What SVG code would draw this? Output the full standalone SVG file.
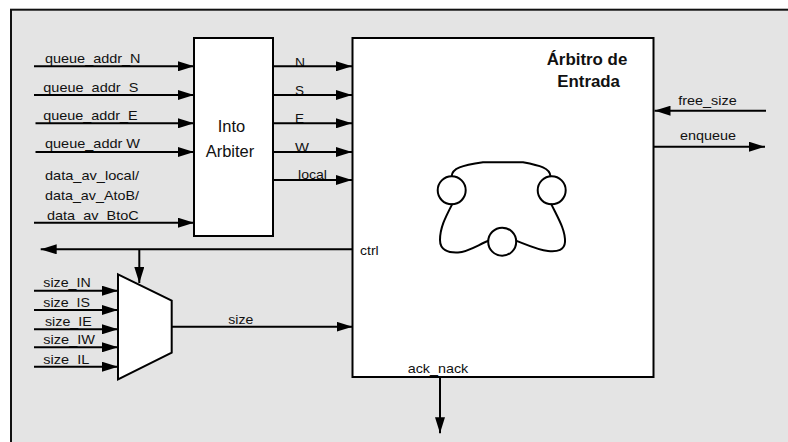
<svg xmlns="http://www.w3.org/2000/svg" width="788" height="442" viewBox="0 0 788 442">
<style>
.box{fill:#fff;stroke:#000;stroke-width:2}
.w{fill:none;stroke:#000;stroke-width:2}
.lbl{font-family:"Liberation Sans",Arial,sans-serif;font-size:13px;fill:#111}
.big{font-family:"Liberation Sans",Arial,sans-serif;font-size:16.5px;fill:#111}
.bold{font-family:"Liberation Sans",Arial,sans-serif;font-size:16px;font-weight:bold;fill:#111}
.arr{marker-end:url(#ah)}
</style>
<defs>
<marker id="ah" viewBox="0 0 16 10" refX="16" refY="5" markerWidth="16" markerHeight="10" markerUnits="userSpaceOnUse" orient="auto">
<path d="M0,0 L16,5 L0,10 z" fill="#000"/>
</marker>
</defs>
<rect width="788" height="442" fill="#fff"/>
<g id="frame">
<rect x="11" y="9.7" width="800" height="460" fill="#e4e4e4" stroke="#111" stroke-width="2"/>
</g>
<g id="into-arbiter">
<rect class="box" x="194" y="38" width="79" height="198"/>
<text class="big" x="231.5" y="131.7" text-anchor="middle">Into</text>
<text class="big" x="230" y="156.7" text-anchor="middle">Arbiter</text>
</g>
<g id="arbitro-entrada">
<rect class="box" x="352.5" y="38" width="301" height="339"/>
<text class="bold" x="546.7" y="65" textLength="80.6" lengthAdjust="spacingAndGlyphs">Árbitro de</text>
<text class="bold" x="557.3" y="86.7" textLength="62.7" lengthAdjust="spacingAndGlyphs">Entrada</text>
<g id="fsm" class="w">
<circle cx="451.7" cy="190.3" r="14"/>
<circle cx="551.7" cy="190.3" r="14"/>
<circle cx="502.2" cy="241.7" r="14"/>
<path d="M451.7,176.3 C452,168 462,165.5 483,162.3 L523,162.3 C540,165.5 550,168 550.5,176.4"/>
<path d="M452.5,203.6 C445,218 440,228 440,240 C440,250 448,253 458,252.5 C468,252 478,245 488.4,240.8"/>
<path d="M551,203.6 C558,218 565.5,230 565,242 C564.5,250 558,252 548,251 C538,250 525,244 515.9,240.6"/>
</g>
</g>
<g id="mux">
<polygon class="box" points="118,274.3 171.7,300.7 171.7,352.7 118,379.3"/>
</g>
<g id="labels" class="lbl">
<text x="45" y="63.3" textLength="95.5" lengthAdjust="spacingAndGlyphs">queue_addr_N</text>
<text x="43.3" y="91.7" textLength="95" lengthAdjust="spacingAndGlyphs">queue_addr_S</text>
<text x="43.3" y="120" textLength="94.4" lengthAdjust="spacingAndGlyphs">queue_addr_E</text>
<text x="45" y="148.3" textLength="95" lengthAdjust="spacingAndGlyphs">queue_addr W</text>
<text x="45" y="180" textLength="94" lengthAdjust="spacingAndGlyphs">data_av_local/</text>
<text x="45" y="200" textLength="94" lengthAdjust="spacingAndGlyphs">data_av_AtoB/</text>
<text x="47" y="220" textLength="91.7" lengthAdjust="spacingAndGlyphs">data_av_BtoC</text>
<text x="295" y="66.5" textLength="10" lengthAdjust="spacingAndGlyphs">N</text>
<text x="295" y="94.5" textLength="9" lengthAdjust="spacingAndGlyphs">S</text>
<text x="295" y="123.3" textLength="9" lengthAdjust="spacingAndGlyphs">E</text>
<text x="295" y="151.8" textLength="14" lengthAdjust="spacingAndGlyphs">W</text>
<text x="298" y="179.3" textLength="29" lengthAdjust="spacingAndGlyphs">local</text>
<text x="360" y="255" textLength="18.7" lengthAdjust="spacingAndGlyphs">ctrl</text>
<text x="43.3" y="287" textLength="47.4" lengthAdjust="spacingAndGlyphs">size_IN</text>
<text x="43.3" y="306.5" textLength="46.7" lengthAdjust="spacingAndGlyphs">size_IS</text>
<text x="45" y="326" textLength="46.7" lengthAdjust="spacingAndGlyphs">size_IE</text>
<text x="43.3" y="344" textLength="51.7" lengthAdjust="spacingAndGlyphs">size_IW</text>
<text x="43.3" y="364" textLength="46" lengthAdjust="spacingAndGlyphs">size_IL</text>
<text x="228.3" y="324" textLength="25" lengthAdjust="spacingAndGlyphs">size</text>
<text x="407.7" y="373" textLength="60.6" lengthAdjust="spacingAndGlyphs">ack_nack</text>
<text x="678.3" y="105" textLength="58.4" lengthAdjust="spacingAndGlyphs">free_size</text>
<text x="680" y="140" textLength="56" lengthAdjust="spacingAndGlyphs">enqueue</text>
</g>
<g id="connectors" class="w">
<line class="arr" x1="34" y1="66.3" x2="194" y2="66.3"/>
<line class="arr" x1="34" y1="95" x2="194" y2="95"/>
<line class="arr" x1="35.5" y1="123.3" x2="194" y2="123.3"/>
<line class="arr" x1="35.5" y1="152" x2="194" y2="152"/>
<line class="arr" x1="34" y1="222.7" x2="194" y2="222.7"/>
<line class="arr" x1="273" y1="66.3" x2="352" y2="66.3"/>
<line class="arr" x1="273" y1="95" x2="352" y2="95"/>
<line class="arr" x1="273" y1="123.3" x2="352" y2="123.3"/>
<line class="arr" x1="273" y1="152" x2="352" y2="152"/>
<line class="arr" x1="273" y1="180" x2="352" y2="180"/>
<line class="arr" x1="352" y1="249.3" x2="40.7" y2="249.3"/>
<line class="arr" x1="139.3" y1="249.3" x2="139.3" y2="283"/>
<line class="arr" x1="34" y1="290.7" x2="118" y2="290.7"/>
<line class="arr" x1="34" y1="310" x2="118" y2="310"/>
<line class="arr" x1="34" y1="329.3" x2="118" y2="329.3"/>
<line class="arr" x1="34" y1="347.3" x2="118" y2="347.3"/>
<line class="arr" x1="34" y1="366.7" x2="118" y2="366.7"/>
<line class="arr" x1="171.7" y1="326.7" x2="352.5" y2="326.7"/>
<line class="arr" x1="766" y1="110.7" x2="654.5" y2="110.7"/>
<line class="arr" x1="653.5" y1="146.7" x2="765" y2="146.7"/>
<line class="arr" x1="440" y1="377" x2="440" y2="433.3"/>
</g>
</svg>
